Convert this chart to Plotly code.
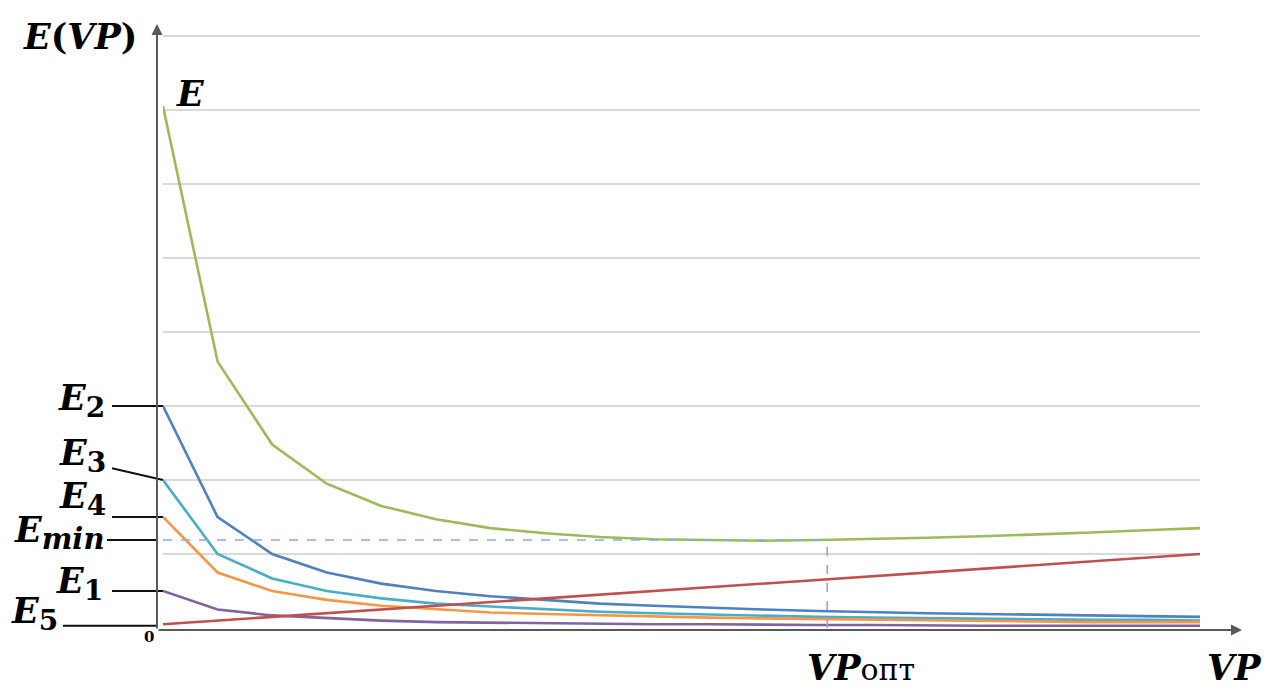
import plotly.graph_objects as go

# ---- data ----
VP = list(range(1, 21))
E_total = [7.05, 3.60, 2.48, 1.95, 1.65, 1.47, 1.35, 1.28, 1.23, 1.20,
           1.19, 1.18, 1.19, 1.20, 1.22, 1.24, 1.26, 1.29, 1.32, 1.35]
E2 = [3.00, 1.50, 1.00, 0.75, 0.60, 0.50, 0.43, 0.38, 0.33, 0.30,
      0.27, 0.25, 0.23, 0.21, 0.20, 0.19, 0.18, 0.17, 0.16, 0.15]
E3 = [2.00, 1.00, 0.67, 0.50, 0.40, 0.33, 0.29, 0.25, 0.22, 0.20,
      0.18, 0.17, 0.15, 0.14, 0.13, 0.13, 0.12, 0.11, 0.11, 0.10]
E4 = [1.50, 0.75, 0.50, 0.38, 0.30, 0.25, 0.21, 0.19, 0.17, 0.15,
      0.14, 0.13, 0.12, 0.11, 0.10, 0.09, 0.09, 0.08, 0.08, 0.08]
E1 = [0.50, 0.25, 0.17, 0.13, 0.10, 0.08, 0.07, 0.06, 0.06, 0.05,
      0.05, 0.04, 0.04, 0.04, 0.03, 0.03, 0.03, 0.03, 0.03, 0.03]
E5 = [0.05, 0.10, 0.15, 0.20, 0.25, 0.30, 0.35, 0.40, 0.45, 0.50,
      0.55, 0.60, 0.65, 0.70, 0.75, 0.80, 0.85, 0.90, 0.95, 1.00]
VP_OPT = 13.17
E_MIN = 1.19
GRID_Y = [1, 2, 3, 4, 5, 6, 7, 8]

W, H = 1267, 693
ML, MR, MT, MB = 163, 67, 30, 65
PW, PH = W - ML - MR, H - MT - MB
UNIT = 74.0


def pxx(p):
    return (p - ML) / PW


def pxy(p):
    return (H - MB - p) / PH


series = [
    (E_total, "#9bbb59", "E"),
    (E2, "#4f81bd", "E2"),
    (E3, "#4bacc6", "E3"),
    (E4, "#f79646", "E4"),
    (E1, "#8064a2", "E1"),
    (E5, "#c0504d", "E5"),
]

fig = go.Figure()
for vals, col, name in series:
    fig.add_trace(go.Scatter(x=VP, y=vals, mode="lines", name=name,
                             line=dict(color=col, width=2.6), hoverinfo="skip"))

shapes = []
shapes.append(dict(type="line", xref="x", yref="y", x0=VP[0], x1=VP_OPT, y0=E_MIN, y1=E_MIN,
                   line=dict(color="#8eaadb", width=1.6, dash="dash")))
shapes.append(dict(type="line", xref="x", yref="y", x0=VP_OPT, x1=VP_OPT, y0=0, y1=E_MIN,
                   line=dict(color="#8eaadb", width=1.6, dash="dash")))

leaders = [
    (112, E2[0], 163, E2[0]),
    (112, 2.16, 163, E3[0]),
    (112, E4[0], 163, E4[0]),
    (107, E_MIN, 158, E_MIN),
    (112, E1[0], 163, E1[0]),
    (63, 0.03, 158, 0.03),
]
for a, ya, b, yb in leaders:
    shapes.append(dict(type="line", xref="paper", yref="y", x0=pxx(a), x1=pxx(b), y0=ya, y1=yb,
                       line=dict(color="#111111", width=2)))

SERIF = "DejaVu Serif"
anns = []


def lab(text, cx, cy, size=35, xanchor="center", yanchor="middle"):
    anns.append(dict(text=text, x=pxx(cx), y=pxy(cy), xref="paper", yref="paper",
                     showarrow=False, xanchor=xanchor, yanchor=yanchor,
                     font=dict(family=SERIF, size=size, color="#000000")))


def esub(s, size=28):
    return "<b><i>E</i><sub><span style='font-size:%dpx'>%s</span></sub></b>" % (size, s)


lab("<b><i>E</i>(<i>VP</i>)</b>", 80, 36)
lab("<b><i>E</i></b>", 190, 93)
lab(esub("2"), 107, 400, xanchor="right")
lab(esub("3"), 108, 455, xanchor="right")
lab(esub("4"), 108, 498, xanchor="right")
lab("<b><i>E</i><sub><span style='font-size:29px'><i>min</i></span></sub></b>", 106, 532, xanchor="right")
lab(esub("1"), 105, 583, xanchor="right")
lab(esub("5"), 60, 613, xanchor="right")
lab("<b>0</b>", 149, 637, size=15)
lab("<b><i>VP</i></b><span style='font-size:30px'>опт</span>", 805, 667, xanchor="left")
lab("<b><i>VP</i></b>", 1264, 667, xanchor="right")

anns.append(dict(x=pxx(157), y=pxy(24), xref="paper", yref="paper", ax=0, ay=606,
                 axref="pixel", ayref="pixel", text="", showarrow=True,
                 arrowhead=2, arrowsize=1.1, arrowwidth=2, arrowcolor="#595959"))
anns.append(dict(x=pxx(1242), y=pxy(630), xref="paper", yref="paper", ax=-1085, ay=0,
                 axref="pixel", ayref="pixel", text="", showarrow=True,
                 arrowhead=2, arrowsize=1.1, arrowwidth=2, arrowcolor="#595959"))

fig.update_layout(
    width=W, height=H,
    margin=dict(l=ML, r=MR, t=MT, b=MB),
    paper_bgcolor="white", plot_bgcolor="white",
    showlegend=False,
    shapes=shapes, annotations=anns,
    xaxis=dict(range=[VP[0], VP[-1]], showgrid=False, zeroline=False, showline=False,
               showticklabels=False, ticks=""),
    yaxis=dict(range=[0, PH / UNIT], tickvals=GRID_Y, showgrid=True, gridcolor="#d9d9d9",
               gridwidth=2, zeroline=False, showline=False, showticklabels=False, ticks=""),
)

fig.write_html("out.html", config=dict(displayModeBar=False),
               post_script="document.body.style.margin='0';document.body.style.overflow='hidden';")
